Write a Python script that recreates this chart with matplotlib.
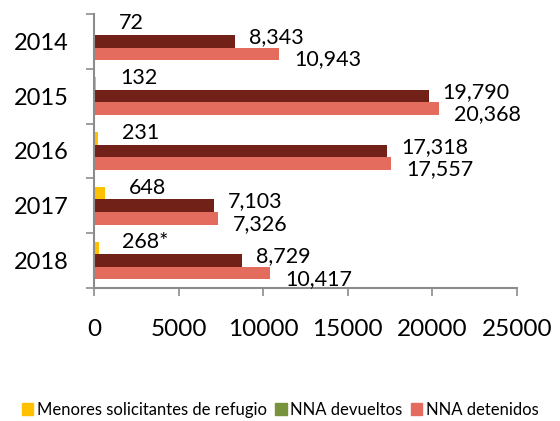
import numpy as np
import matplotlib
matplotlib.use("Agg")
import matplotlib.pyplot as plt
from matplotlib.patches import Patch

plt.rcParams['font.family'] = ['Lato', 'DejaVu Sans']

years = ['2014', '2015', '2016', '2017', '2018']
refugio = [72, 132, 231, 648, 268]
refugio_labels = ['72', '132', '231', '648', '268*']
devueltos = [8343, 19790, 17318, 7103, 8729]
detenidos = [10943, 20368, 17557, 7326, 10417]

c_yellow = '#FFC000'
c_dark = '#722119'
c_salmon = '#E46C5F'
c_green = '#77933C'
c_axis = '#8C8C8C'

fig = plt.figure(figsize=(5.6, 4.21), dpi=100)
ax = fig.add_axes([0.168, 0.316, 0.755, 0.651])

y = np.arange(len(years))
h = 0.23
ax.barh(y - h, refugio, height=h, color=c_yellow)
ax.barh(y, devueltos, height=h, color=c_dark)
ax.barh(y + h, detenidos, height=h, color=c_salmon)

# data labels, placed roughly like the original
for i in range(len(years)):
    ax.annotate(refugio_labels[i], (refugio[i], y[i] - h), xytext=(17, 4),
                textcoords='offset points', va='center', ha='left', fontsize=15.5)
    ax.annotate(f'{devueltos[i]:,}', (devueltos[i], y[i]), xytext=(10, 3),
                textcoords='offset points', va='center', ha='left', fontsize=15.5)
    ax.annotate(f'{detenidos[i]:,}', (detenidos[i], y[i] + h), xytext=(11, -4),
                textcoords='offset points', va='center', ha='left', fontsize=15.5)

ax.set_xlim(0, 25000)
ax.set_ylim(len(years) - 0.5, -0.5)
ax.set_xticks(range(0, 25001, 5000))
ax.set_yticks(y)
ax.set_yticklabels(years)
ax.set_yticks(np.arange(-0.5, len(years)), minor=True)
ax.tick_params(axis='y', which='major', length=0, pad=18, labelsize=17)
ax.tick_params(axis='y', which='minor', length=6, width=1.2, color=c_axis, direction='out')
ax.tick_params(axis='x', which='major', length=6, width=1.2, color=c_axis,
               direction='out', pad=16, labelsize=17.5)

for s in ['top', 'right']:
    ax.spines[s].set_visible(False)
for s in ['left', 'bottom']:
    ax.spines[s].set_color(c_axis)
    ax.spines[s].set_linewidth(1.5)

handles = [Patch(color=c_yellow, label='Menores solicitantes de refugio'),
           Patch(color=c_green, label='NNA devueltos'),
           Patch(color=c_salmon, label='NNA detenidos')]
fig.legend(handles=handles, loc='center', bbox_to_anchor=(0.5, 0.026), ncol=3,
           frameon=False, fontsize=12, handlelength=0.7, handleheight=0.7,
           handletextpad=0.2, columnspacing=0.5, borderaxespad=0)

fig.savefig('out.png', dpi=100)
